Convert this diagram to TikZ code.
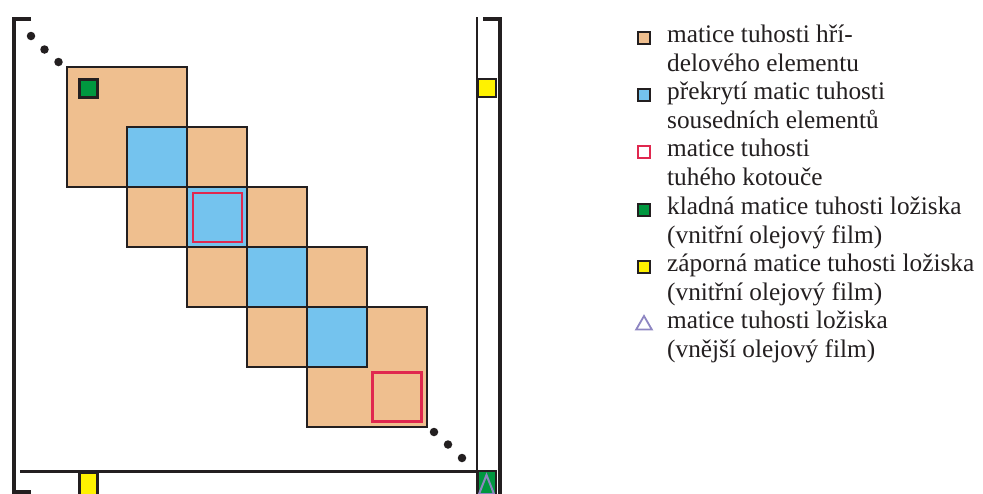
\documentclass[tikz,border=0pt]{standalone}
\usepackage{fontspec}
\setmainfont{Liberation Serif}
\usetikzlibrary{shapes.geometric}
\definecolor{orng}{HTML}{EFBF8F}
\definecolor{blu}{HTML}{74C3EE}
\definecolor{rd}{HTML}{E0284F}
\definecolor{grn}{HTML}{00973F}
\definecolor{yel}{HTML}{FFF200}
\definecolor{purp}{HTML}{8E86C2}
\definecolor{ink}{HTML}{231F20}
\begin{document}
\begin{tikzpicture}[x=1pt,y=-1pt,
  blockbox/.style={draw=ink,fill=orng,line width=2.4pt,minimum size=120pt,inner sep=0pt,outer sep=0pt},
  cellbox/.style={draw=ink,fill=blu,line width=2.4pt,minimum size=60pt,inner sep=0pt,outer sep=0pt},
  redbox/.style={draw=rd,line width=2.6pt,minimum size=49pt,inner sep=0pt,outer sep=0pt},
  smallsq/.style={draw=ink,line width=2.4pt,minimum size=18pt,inner sep=0pt,outer sep=0pt},
  legsq/.style={draw=ink,line width=2.4pt,minimum size=12pt,inner sep=0pt,outer sep=0pt},
  dotc/.style={circle,fill=ink,minimum size=8.5pt,inner sep=0pt},
  legtext/.style={anchor=base west,inner sep=0pt,text=ink,font=\fontsize{25.3}{28}\selectfont},
  bracket/.style={draw=ink,line width=4pt,line cap=butt,line join=miter},
  thinline/.style={draw=ink,line width=2.4pt}
]
\clip (0,0) rectangle (983,493);
\fill[white] (0,0) rectangle (983,493);

% blocks
\node[blockbox] (b1) at (127,127) {};
\node[blockbox] (b2) at (187,187) {};
\node[blockbox] (b3) at (247,247) {};
\node[blockbox] (b4) at (307,307) {};
\node[blockbox] (b5) at (367,367) {};
% overlap cells
\node[cellbox] (c1) at (157,157) {};
\node[cellbox] (c2) at (217,217) {};
\node[cellbox] (c3) at (277,277) {};
\node[cellbox] (c4) at (337,337) {};
% rigid disk
\node[redbox] (r1) at (217.5,217.5) {};
\node[redbox] (r2) at (397,397) {};
% bearing
\node[smallsq,fill=grn] (g1) at (88.5,88.5) {};
\node[smallsq,fill=yel] (y1) at (487,88) {};
\node[smallsq,fill=yel,minimum height=22pt] (y2) at (88.5,484) {};
\node[smallsq,fill=grn,minimum height=24pt] (g2) at (487,483) {};
\draw[purp,line width=2pt,line join=miter] (479,494) -- (486.5,475) -- (494,494) -- cycle;

% lines
\coordinate (hl) at (20,471.5);
\coordinate (hr) at (477,471.5);
\coordinate (vt) at (477,17);
\coordinate (vb) at (477,495);
\draw[thinline] (hl) -- (hr);
\draw[thinline] (vt) -- (vb);
\draw[bracket] (31,19) -- (14,19) -- (14,492) -- (31,492);
\draw[bracket] (483,19) -- (499.5,19) -- (499.5,498);

% dots
\node[dotc] (d1) at (31,36) {};
\node[dotc] (d2) at (44.5,49.5) {};
\node[dotc] (d3) at (58.5,62) {};
\node[dotc] (d4) at (434,432) {};
\node[dotc] (d5) at (448,444.5) {};
\node[dotc] (d6) at (462,458) {};

% legend
\node[legsq,fill=orng] (m1) at (644,38) {};
\node[legsq,fill=blu] (m2) at (644,95) {};
\node[legsq,draw=rd,fill=white] (m3) at (644,152) {};
\node[legsq,fill=grn] (m4) at (644,210) {};
\node[legsq,fill=yel] (m5) at (644,267) {};
\node[regular polygon,regular polygon sides=3,draw=purp,line width=1.8pt,minimum size=18pt,inner sep=0pt] (m6) at (644,325) {};

\node[legtext] (t1) at (667,42.7) {matice tuhosti hří-};
\node[legtext] (t2) at (667,71) {delového elementu};
\node[legtext] (t3) at (667,99.5) {překrytí matic tuhosti};
\node[legtext] (t4) at (667,128) {sousedních elementů};
\node[legtext] (t5) at (667,156.5) {matice tuhosti};
\node[legtext] (t6) at (667,185) {tuhého kotouče};
\node[legtext] (t7) at (667,214.5) {kladná matice tuhosti ložiska};
\node[legtext] (t8) at (667,243) {(vnitřní olejový film)};
\node[legtext] (t9) at (667,271.5) {záporná matice tuhosti ložiska};
\node[legtext] (t10) at (667,300) {(vnitřní olejový film)};
\node[legtext] (t11) at (667,328.5) {matice tuhosti ložiska};
\node[legtext] (t12) at (667,357) {(vnější olejový film)};
\end{tikzpicture}
\end{document}
